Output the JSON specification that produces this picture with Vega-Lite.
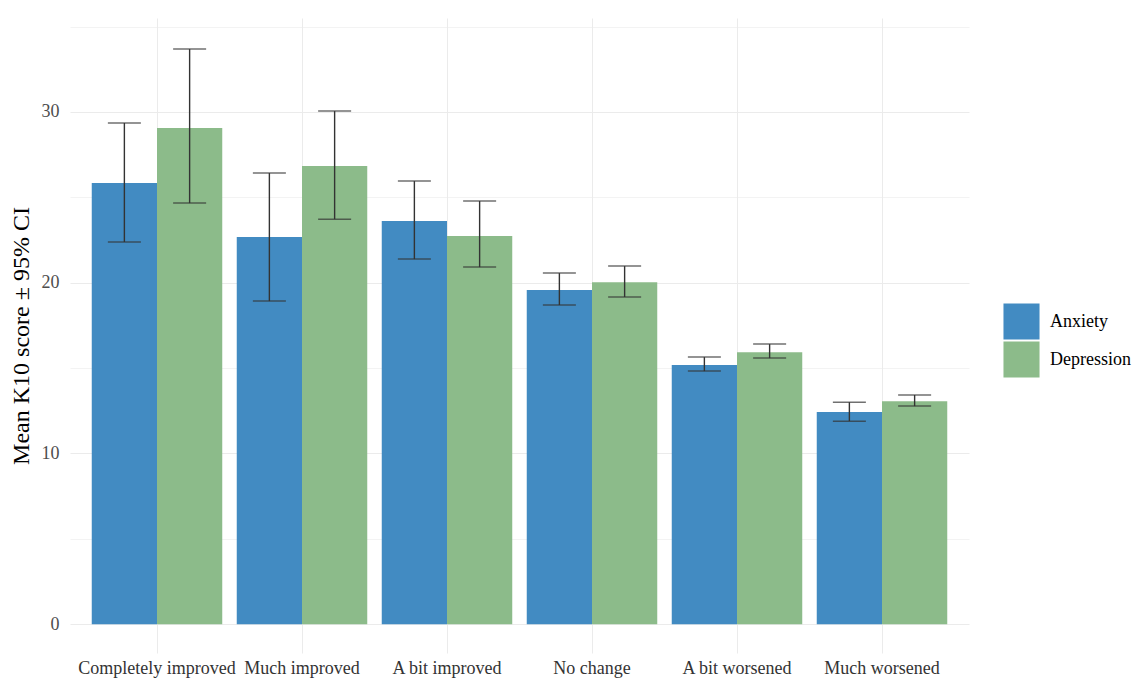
{
  "$schema": "https://vega.github.io/schema/vega-lite/v6.json",
  "width": 899,
  "height": 635,
  "autosize": "none",
  "padding": {"left": 70, "top": 18, "right": 170, "bottom": 29},
  "background": "white",
  "config": {"view": {"stroke": null}, "font": "Liberation Serif"},
  "data": {"values": [
    {"change": "Completely improved", "type": "Anxiety", "mean": 25.83, "lo": 22.38, "hi": 29.35},
    {"change": "Completely improved", "type": "Depression", "mean": 29.06, "lo": 24.66, "hi": 33.68},
    {"change": "Much improved", "type": "Anxiety", "mean": 22.67, "lo": 18.92, "hi": 26.42},
    {"change": "Much improved", "type": "Depression", "mean": 26.83, "lo": 23.72, "hi": 30.05},
    {"change": "A bit improved", "type": "Anxiety", "mean": 23.61, "lo": 21.38, "hi": 25.95},
    {"change": "A bit improved", "type": "Depression", "mean": 22.73, "lo": 20.91, "hi": 24.78},
    {"change": "No change", "type": "Anxiety", "mean": 19.57, "lo": 18.69, "hi": 20.56},
    {"change": "No change", "type": "Depression", "mean": 20.03, "lo": 19.16, "hi": 20.97},
    {"change": "A bit worsened", "type": "Anxiety", "mean": 15.17, "lo": 14.82, "hi": 15.64},
    {"change": "A bit worsened", "type": "Depression", "mean": 15.93, "lo": 15.58, "hi": 16.40},
    {"change": "Much worsened", "type": "Anxiety", "mean": 12.42, "lo": 11.89, "hi": 13.0},
    {"change": "Much worsened", "type": "Depression", "mean": 13.06, "lo": 12.77, "hi": 13.42}
  ]},
  "encoding": {
    "x": {
      "field": "change", "type": "nominal",
      "sort": ["Completely improved", "Much improved", "A bit improved", "No change", "A bit worsened", "Much worsened"],
      "scale": {"paddingInner": 0.1, "paddingOuter": 0.15},
      "axis": {
        "title": null, "grid": true, "bandPosition": 0.5, "gridColor": "#ebebeb", "gridWidth": 1,
        "ticks": false, "domain": false, "labelAngle": 0, "labelFontSize": 18,
        "labelColor": "#333333", "labelPadding": 6
      }
    },
    "xOffset": {"field": "type", "type": "nominal", "scale": {"paddingInner": 0, "paddingOuter": 0}}
  },
  "layer": [
    {
      "mark": {"type": "bar"},
      "encoding": {
        "y": {
          "field": "mean", "type": "quantitative",
          "scale": {"domain": [-1.69, 35.5], "nice": false, "zero": false},
          "axis": {
            "values": [0, 5, 10, 15, 20, 25, 30, 35],
            "labelExpr": "datum.value % 10 == 0 ? datum.label : ''",
            "gridColor": "#ebebeb",
            "gridWidth": {"condition": {"test": "datum.value % 10 != 0", "value": 0.6}, "value": 1},
            "ticks": false, "domain": false, "labelFontSize": 18, "labelColor": "#4d4d4d",
            "labelPadding": 11, "title": "Mean K10 score ± 95% CI", "titleFontSize": 24,
            "titleFontWeight": "normal", "titleColor": "#000000", "titlePadding": 8
          }
        },
        "y2": {"datum": 0},
        "color": {
          "field": "type", "type": "nominal",
          "scale": {"domain": ["Anxiety", "Depression"], "range": ["#428BC2", "#8CBB8A"]},
          "legend": {
            "title": null, "orient": "none", "legendX": 933, "legendY": 285,
            "symbolType": "square", "symbolSize": 1300, "symbolStrokeWidth": 0, "symbolOpacity": 1,
            "labelFontSize": 18, "labelColor": "#000000", "rowPadding": 1, "labelOffset": 10, "padding": 0
          }
        }
      }
    },
    {
      "mark": {"type": "rule", "color": "#333333", "strokeWidth": 1.4},
      "encoding": {"y": {"field": "lo", "type": "quantitative"}, "y2": {"field": "hi"}}
    },
    {
      "mark": {"type": "tick", "color": "#333333", "size": 33, "thickness": 1.5},
      "encoding": {"y": {"field": "lo", "type": "quantitative"}}
    },
    {
      "mark": {"type": "tick", "color": "#333333", "size": 33, "thickness": 1.5},
      "encoding": {"y": {"field": "hi", "type": "quantitative"}}
    }
  ]
}
